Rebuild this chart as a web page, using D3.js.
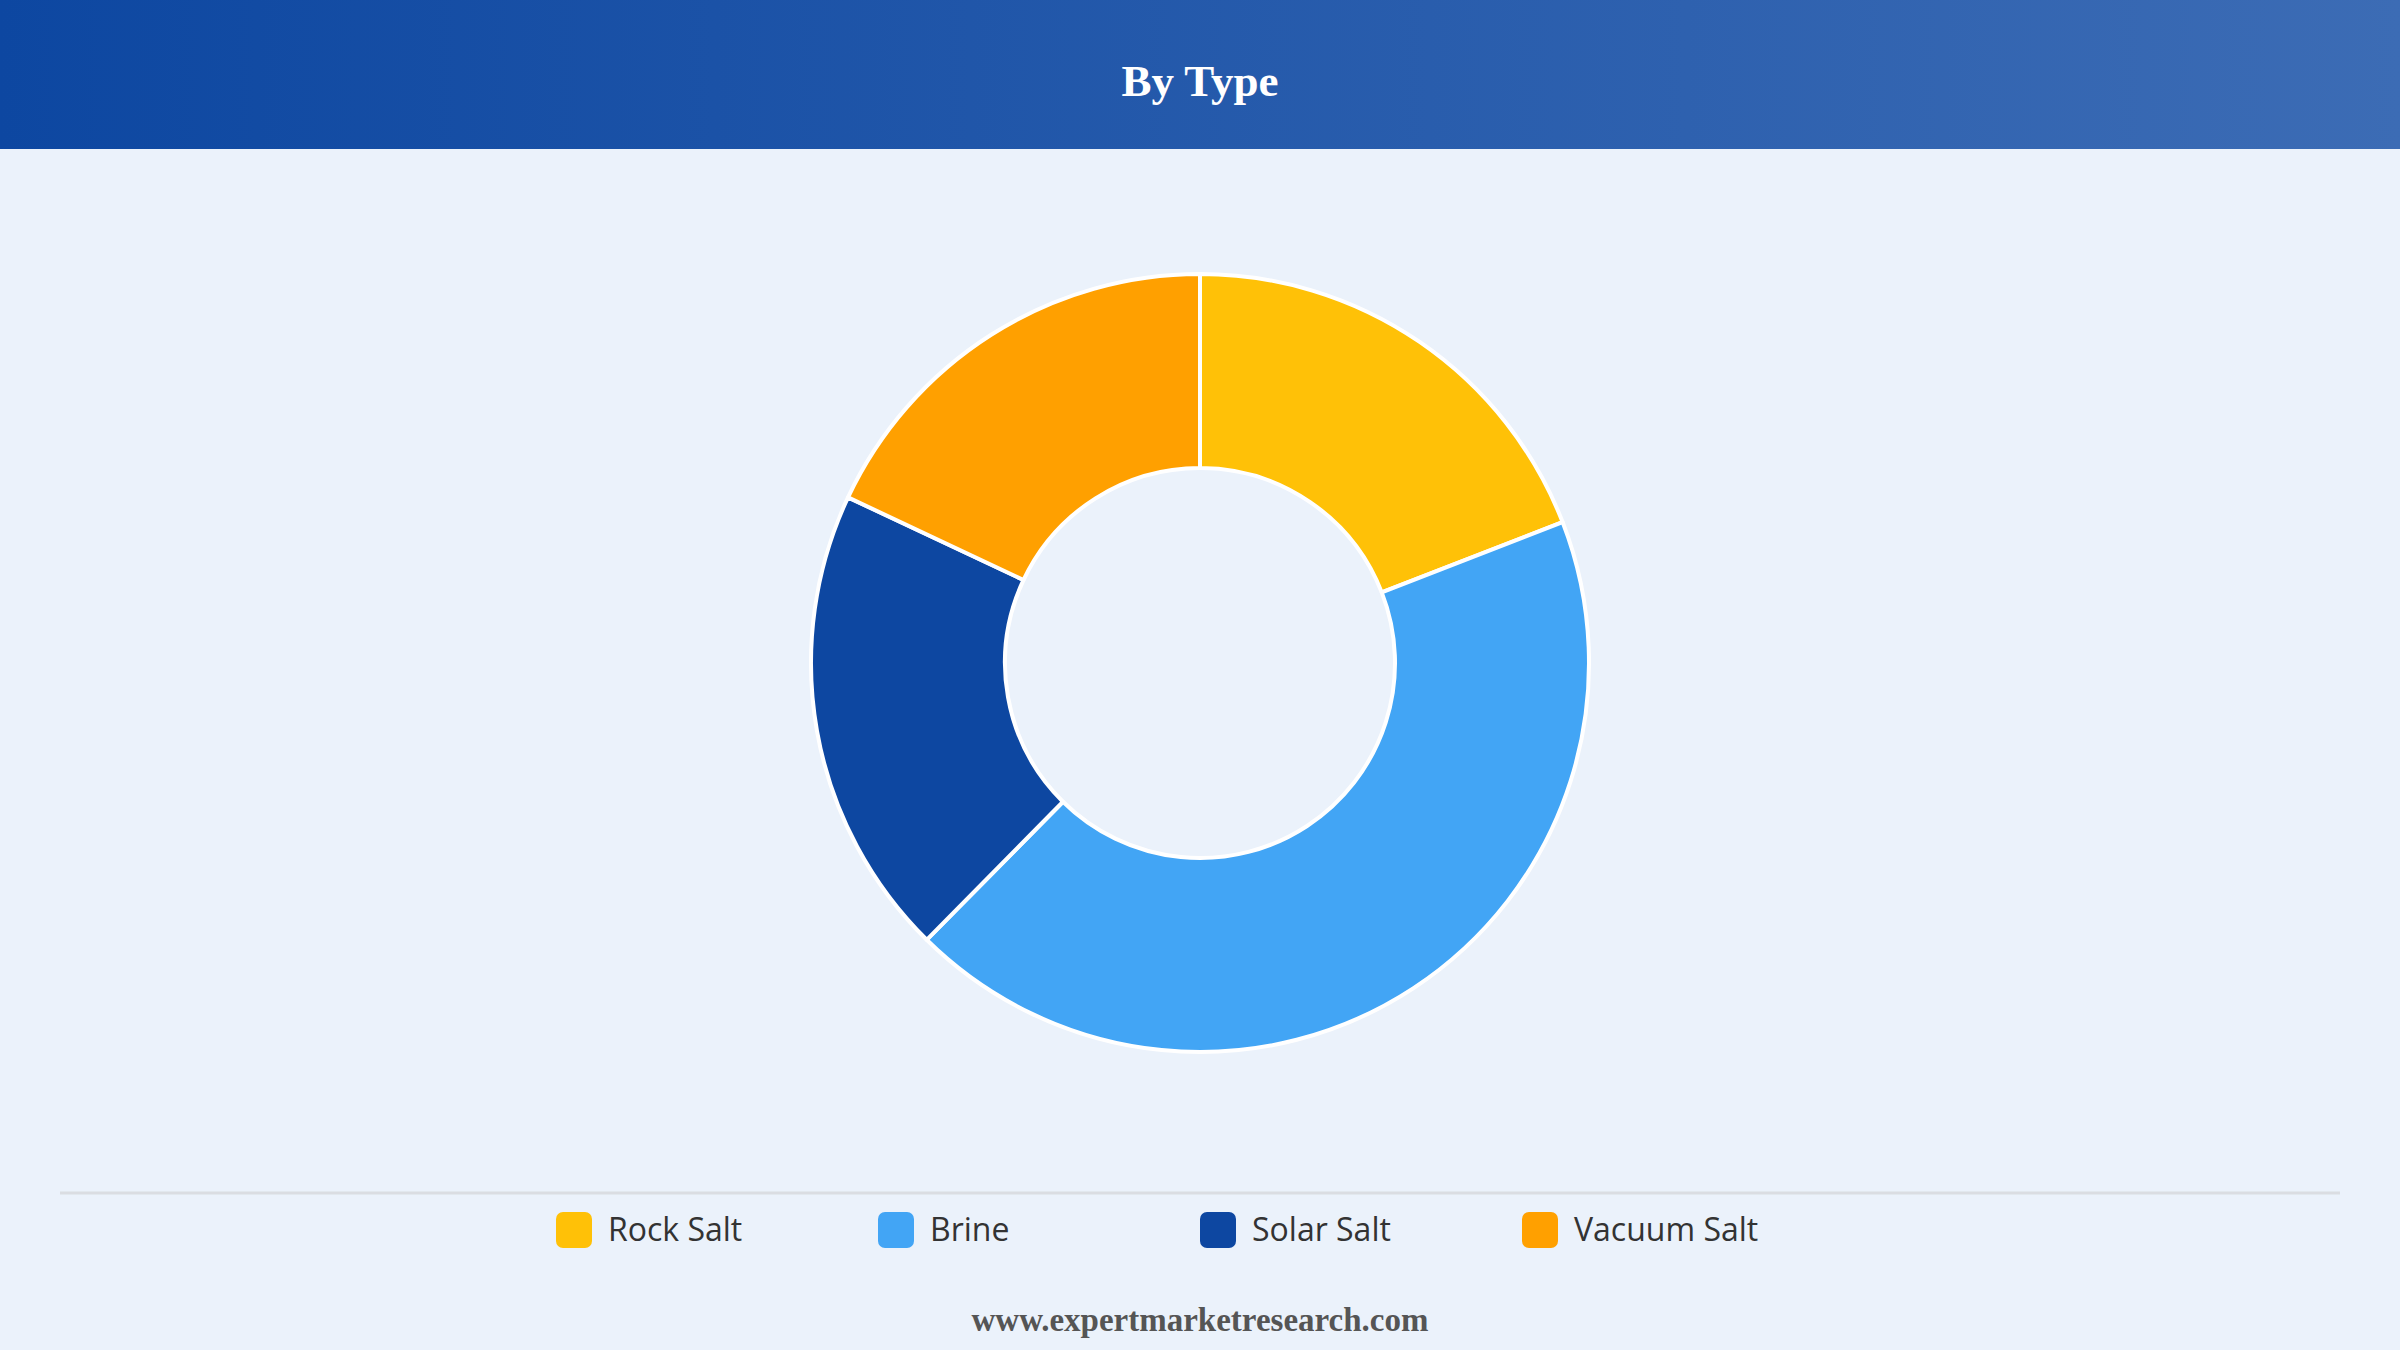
<!DOCTYPE html>
<html><head><meta charset="utf-8">
<script src="https://cdn.jsdelivr.net/npm/d3@7"></script>
<style>html,body{margin:0;padding:0;background:#EBF2FB;}svg{display:block;}</style>
</head><body>
<svg id="chart" width="2400" height="1350"></svg>
<script>
const title = "By Type";
const categories = ["Rock Salt", "Brine", "Solar Salt", "Vacuum Salt"];
const values = [19.1, 43.3, 19.6, 18.0];
const colors = ["#FFC107", "#42A5F5", "#0D47A1", "#FFA000"];
const footer = "www.expertmarketresearch.com";

const W = 2400, H = 1350;
const svg = d3.select("#chart");
const defs = svg.append("defs");
const grad = defs.append("linearGradient").attr("id","hdr").attr("x1","0").attr("x2","1").attr("y1","0").attr("y2","0");
grad.append("stop").attr("offset","0").attr("stop-color","#0D47A1");
grad.append("stop").attr("offset","1").attr("stop-color","#3C6CB5");

svg.append("rect").attr("width",W).attr("height",H).attr("fill","#EBF2FB");
svg.append("rect").attr("width",W).attr("height",149).attr("fill","url(#hdr)");
svg.append("text").attr("x",W/2).attr("y",96).attr("text-anchor","middle")
  .attr("font-family","'Liberation Serif','Times New Roman',serif").attr("font-weight","bold")
  .attr("font-size",45).attr("fill","#fff").text(title);

const cx = 1200, cy = 663, R = 389, r = 195;
const pie = d3.pie().sort(null).value(d=>d.v);
const arc = d3.arc().innerRadius(r).outerRadius(R);
const data = categories.map((c,i)=>({c, v: values[i], col: colors[i]}));
const g = svg.append("g").attr("transform",`translate(${cx},${cy})`);
g.selectAll("path").data(pie(data)).join("path")
  .attr("d", arc).attr("fill", d=>d.data.col)
  .attr("stroke","#fff").attr("stroke-width",4).attr("stroke-linejoin","round");

svg.append("line").attr("x1",60).attr("x2",2340).attr("y1",1193).attr("y2",1193)
  .attr("stroke","#DADDE2").attr("stroke-width",3);

const lx = d3.scalePoint().domain(categories).range([556, 1522]);
const lg = svg.append("g").selectAll("g").data(data).join("g")
  .attr("transform", d=>`translate(${lx(d.c)},1212)`);
lg.append("rect").attr("width",36).attr("height",36).attr("rx",7).attr("fill",d=>d.col);
lg.append("text").attr("x",52).attr("y",18).attr("dy","0.35em")
  .attr("font-family","'Open Sans','Noto Sans',sans-serif").attr("font-size",32)
  .attr("font-weight",500).attr("fill","#333").text(d=>d.c);

svg.append("text").attr("x",W/2).attr("y",1331).attr("text-anchor","middle")
  .attr("font-family","'Liberation Serif','Times New Roman',serif").attr("font-weight","bold")
  .attr("font-size",33).attr("fill","#555").text(footer);
</script>
</body></html>
